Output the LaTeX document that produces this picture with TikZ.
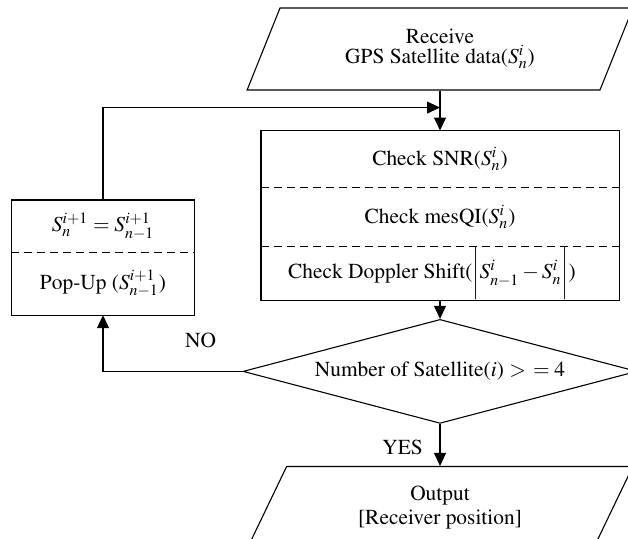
\documentclass[tikz,border=0pt]{standalone}
\usepackage[T1]{fontenc}
\usepackage{mathptmx}
\usetikzlibrary{arrows.meta, positioning, shapes.geometric}

\begin{document}
\begin{tikzpicture}[
  font=\fontsize{10.7}{12}\selectfont,
  line width=0.55pt,
  io/.style={draw, trapezium, trapezium left angle=64, trapezium right angle=116,
             trapezium stretches=true, minimum width=193pt, minimum height=41pt,
             align=center, inner sep=0pt},
  part/.style={minimum width=178.5pt, inner sep=0pt},
  popbox/.style={minimum width=91pt, inner sep=0pt},
  cond/.style={draw, diamond, aspect=3.7, minimum width=197pt, minimum height=52pt,
               inner sep=0pt},
  sep/.style={dashed, dash pattern=on 4pt off 2.5pt},
  arr/.style={-{Triangle[length=6.5pt, width=6pt]}}
]
  \useasboundingbox (0,0) rectangle (314pt,-269.5pt);

  % main column
  \node[io] (recv) at (220pt,-24.5pt) {Receive\\[-2pt] GPS Satellite data($S_n^i$)};
  \node[part, minimum height=28pt, below=20pt of recv] (snr) {Check SNR($S_n^i$)};
  \node[part, minimum height=29pt, below=0pt of snr] (mesqi) {Check mesQI($S_n^i$)};
  \node[part, minimum height=26.5pt, below=0pt of mesqi] (dop)
    {\hspace*{-8pt}Check Doppler Shift($\smash{\biggl|S_{n-1}^i - S_n^i\biggr|}$)};
  \draw (snr.north west) rectangle (dop.south east);
  \draw[sep] (snr.south west) -- (snr.south east);
  \draw[sep] (mesqi.south west) -- (mesqi.south east);

  \node[cond, below=9pt of dop] (num) {Number of Satellite($i$) $>\,{=}\;4$};
  \node[io, below=21pt of num] (out) {Output\\ {[Receiver position]}};

  % side box for the retry branch
  \node[popbox, minimum height=25.5pt, anchor=north] (upd) at (51.5pt,-100pt)
    {$S_n^{i+1} = S_{n-1}^{i+1}$};
  \node[popbox, minimum height=31pt, below=0pt of upd] (pop) {Pop-Up ($S_{n-1}^{i+1}$)};
  \draw (upd.north west) rectangle (pop.south east);
  \draw[sep] (upd.south west) -- (upd.south east);

  \coordinate[below=8.5pt of recv.south] (merge);

  \draw[arr] (recv.south) -- (recv.south |- snr.north);
  \draw[arr] (upd.north) |- (merge);
  \draw[arr] (dop.south -| num.north) -- (num.north);
  \draw[arr] (num.south) -- node[left=5pt, pos=0.55] {YES} (out.north);
  \draw[arr] (num.west) -| node[above=8pt, pos=0.15] {NO} (pop.south);
\end{tikzpicture}
\end{document}
